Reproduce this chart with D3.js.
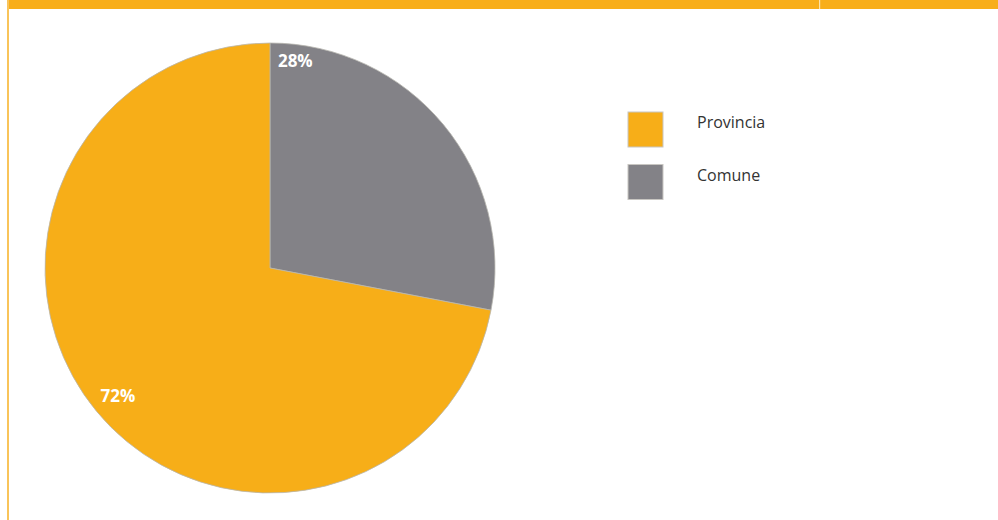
<!DOCTYPE html>
<html><head><meta charset="utf-8">
<script src="https://cdn.jsdelivr.net/npm/d3@7"></script>
<style>body{margin:0;background:#fff}svg{display:block}</style>
</head><body>
<svg id="chart" width="998" height="520"></svg>
<script>
const categories = ["Comune", "Provincia"];
const values = [28, 72];
const labels = ["28%", "72%"];
const legendOrder = ["Provincia", "Comune"];
const colors = {"Provincia": "#f7ae18", "Comune": "#838287"};

const svg = d3.select("#chart");
// frame
svg.append("rect").attr("x", 7).attr("y", 0).attr("width", 991).attr("height", 9).attr("fill", "#f8ae1a");
svg.append("rect").attr("x", 7).attr("y", 0).attr("width", 2).attr("height", 520).attr("fill", "#f9c45a");
svg.append("rect").attr("x", 819).attr("y", 0).attr("width", 1.2).attr("height", 9).attr("fill", "#fde2a8");

const cx = 270, cy = 268, r = 225;
const pie = d3.pie().sort(null).value(d => d)(values);
const arc = d3.arc().innerRadius(0).outerRadius(r);
const g = svg.append("g").attr("transform", `translate(${cx},${cy})`);
g.selectAll("path").data(pie).enter().append("path")
  .attr("d", arc)
  .attr("fill", (d, i) => colors[categories[i]])
  .attr("stroke", "#b8b6b0").attr("stroke-width", 0.8);

// label placement: fraction across slice and radius
const labFrac = [0.0395 / (2 * Math.PI * 0.28), 0.505];
const labRad = [201, 216];
function labAngle(d, i) { return d.startAngle + (d.endAngle - d.startAngle) * labFrac[i]; }
g.selectAll("text.lab").data(pie).enter().append("text")
  .attr("class", "lab")
  .attr("x", (d, i) => Math.sin(labAngle(d, i)) * labRad[i])
  .attr("y", (d, i) => -Math.cos(labAngle(d, i)) * labRad[i])
  .attr("text-anchor", "start")
  .attr("font-family", "'Open Sans', 'Noto Sans', sans-serif")
  .attr("font-weight", "bold").attr("font-size", 17).attr("fill", "#fff")
  .text((d, i) => labels[i]);

// legend
const lg = svg.append("g");
legendOrder.forEach((name, i) => {
  const y = 112 + i * 52.5;
  lg.append("rect").attr("x", 628).attr("y", y).attr("width", 35).attr("height", 35)
    .attr("fill", colors[name]).attr("stroke", "#c8c6c2").attr("stroke-width", 1);
  lg.append("text").attr("x", 697).attr("y", y + 16)
    .attr("font-family", "'Open Sans', 'Noto Sans', sans-serif")
    .attr("font-size", 16).attr("fill", "#333").text(name);
});
</script>
</body></html>
